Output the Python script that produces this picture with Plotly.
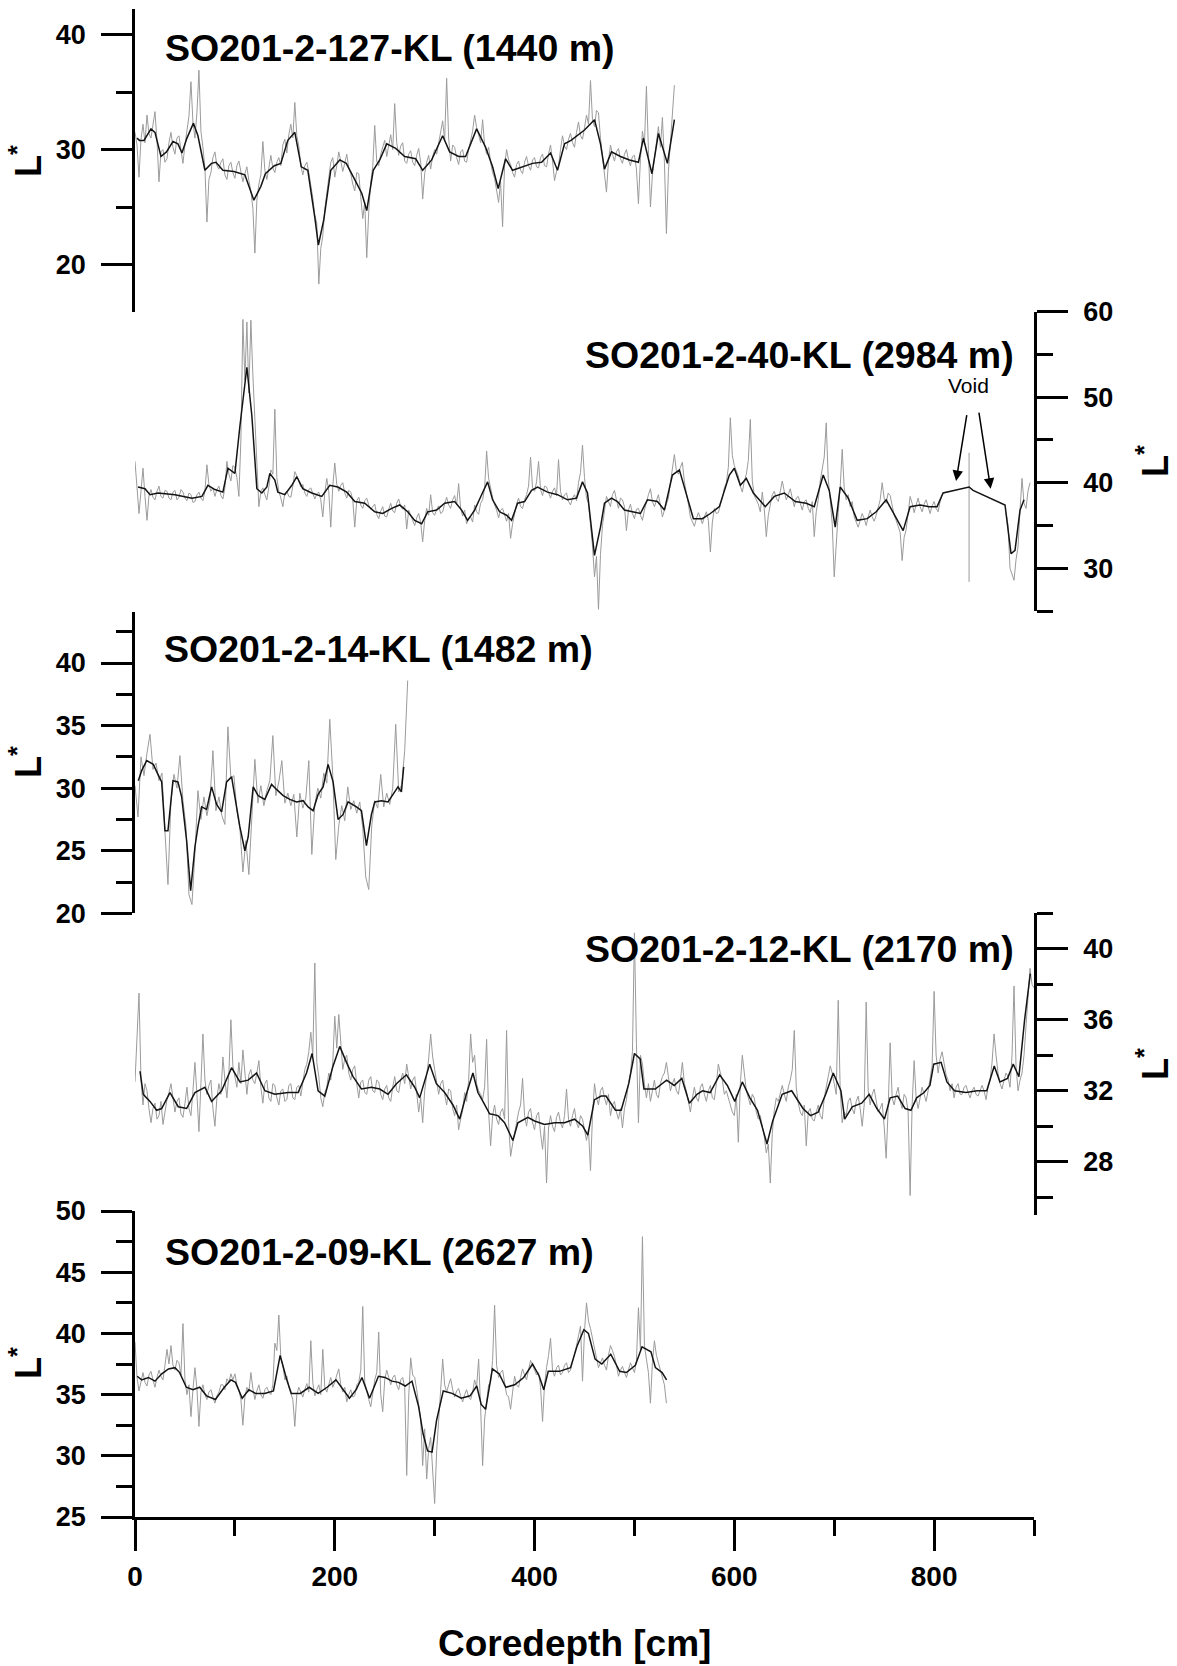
import plotly.graph_objects as go

# ---------------- data ----------------
# raw L* series, sampled every RAW_STEP cm starting at 0 cm
RAW_STEP_127 = 2
L_127_raw = [
    31.5, 30.4, 27.6, 30.9, 32.2, 30.6, 33.0, 31.4, 31.0, 32.4,
    33.3, 30.8, 27.2, 29.8, 30.0, 28.9, 29.2, 30.6, 31.5, 30.2,
    29.6, 31.0, 31.2, 30.0, 28.8, 30.4, 31.8, 32.9, 35.9, 32.4,
    31.0, 33.2, 36.9, 31.6, 30.2, 28.4, 23.7, 27.4, 28.0, 29.3,
    29.8, 28.6, 28.3, 28.9, 29.2, 27.8, 27.4, 28.6, 28.9, 28.0,
    27.5, 28.6, 29.0, 28.1, 27.2, 27.9, 28.5, 27.3, 26.4, 24.9,
    21.0, 25.6, 27.0, 27.8, 30.7, 28.2, 27.4, 28.4, 29.5, 28.4,
    28.0, 28.9, 29.3, 28.6, 30.4, 30.9, 29.7, 31.3, 32.2, 31.0,
    34.1, 31.2, 30.3, 28.6, 27.8, 28.6, 28.9, 28.0, 27.0, 25.8,
    24.3, 23.6, 18.3, 21.4, 22.5, 24.8, 26.2, 27.6, 28.9, 29.3,
    27.6, 28.6, 29.8, 29.0, 28.1, 28.8, 29.6, 28.4, 27.9, 27.0,
    26.4, 28.0, 27.9, 25.9, 24.0, 25.4, 20.6, 24.6, 27.2, 28.5,
    32.1, 29.0, 28.6, 29.6, 30.2, 30.8, 29.4, 30.3, 31.3, 30.0,
    34.0, 30.6, 29.5, 30.3, 30.6, 29.0, 28.8, 29.6, 29.9, 28.9,
    28.6, 29.5, 30.1, 28.9, 25.7, 27.9, 28.9, 29.5, 28.3, 29.4,
    30.0, 29.6, 30.6, 31.4, 32.5, 30.8, 36.2, 31.0, 29.0, 30.4,
    30.2, 29.3, 28.7, 29.8, 30.0, 29.0, 28.9, 30.0, 30.8, 31.6,
    33.0, 31.9, 31.3, 30.6, 32.6, 30.4, 29.6, 30.2, 28.9, 28.0,
    27.5, 26.4, 25.4, 27.2, 23.3, 28.6, 30.0, 29.1, 28.7, 28.0,
    27.6, 28.7, 29.0, 28.2, 27.9, 28.9, 29.4, 28.6, 28.2, 29.1,
    29.3, 28.5, 28.4, 29.3, 29.6, 28.6, 28.5, 29.6, 30.4, 29.0,
    27.3, 28.1, 28.6, 30.0, 31.2, 30.3, 30.0, 30.9, 31.4, 30.6,
    30.2, 31.5, 32.4, 31.2, 30.9, 31.9, 33.0, 32.2, 36.0, 32.6,
    32.0, 33.4, 33.2, 31.0, 29.4, 28.0, 26.3, 29.0, 30.4, 29.6,
    29.0, 29.8, 30.1, 29.2, 28.8, 29.6, 30.0, 29.1, 28.6, 29.4,
    29.5, 28.3, 25.3, 29.2, 31.6, 30.4, 35.5, 30.0, 25.0, 27.8,
    29.4, 30.9, 32.0, 30.2, 32.8, 28.9, 22.7, 28.1, 30.6, 32.8,
    35.6]
smooth_127_depth = [2, 4.5, 9, 16, 20, 26, 31.5, 38, 43, 47, 52, 58.5, 63, 70, 76.5, 81, 88, 99, 110, 119, 126,
                    130.5, 139.5, 146, 153, 160, 166.5, 173, 180, 183.6, 189, 196, 205, 211.5, 220.5, 227, 232,
                    238.5, 245, 252, 261, 270, 281, 288, 297, 308, 315, 324, 331, 342, 351, 358, 363.6, 371,
                    378, 387, 398, 407, 416, 423, 430, 436.5, 443, 450, 460, 466, 470, 477, 486, 495, 504, 509,
                    517.5, 524, 533, 540]
smooth_127_L = [31.0, 30.8, 30.8, 31.8, 31.5, 29.4, 29.8, 30.7, 30.5, 29.7, 31.0, 32.3, 31.2, 28.2, 28.8, 28.9,
                28.2, 28.1, 27.8, 25.6, 26.8, 27.9, 28.6, 28.8, 30.8, 31.5, 28.5, 28.2, 24.1, 21.7, 23.9, 28.2,
                29.1, 28.8, 27.3, 26.2, 24.7, 28.2, 29.1, 30.5, 30.1, 29.4, 29.2, 28.2, 29.1, 31.2, 29.8, 29.4,
                29.4, 31.8, 30.2, 28.5, 26.6, 29.2, 28.2, 28.5, 28.8, 28.9, 29.7, 28.2, 30.5, 30.8, 31.2, 31.7,
                32.6, 30.5, 28.3, 29.8, 29.4, 29.1, 28.9, 31.0, 27.9, 31.4, 28.8, 32.6]

RAW_STEP_40 = 2
L_40_raw = [
    42.5, 39.4, 36.4, 39.0, 41.7, 38.4, 35.6, 38.5, 39.2, 38.3,
    38.0, 39.0, 39.6, 38.4, 38.2, 39.1, 39.0, 38.2, 38.0, 38.9,
    39.1, 38.0, 38.3, 39.2, 38.9, 38.2, 37.9, 38.8, 38.6, 37.7,
    37.8, 38.6, 38.9, 38.2, 37.9, 39.0, 42.1, 39.8, 39.0, 39.4,
    38.4, 39.2, 39.6, 38.5, 38.1, 39.4, 42.5, 41.0, 40.2, 42.0,
    41.8, 40.6, 38.4, 45.0, 59.1, 52.0, 58.8, 50.5, 59.0, 52.6,
    47.4, 41.0, 37.2, 39.0, 39.4, 38.6, 38.0, 39.5, 41.5, 41.0,
    48.6, 40.6, 39.0, 38.2, 37.2, 38.8, 39.0, 38.4, 38.3, 39.6,
    41.3, 40.8, 40.0, 39.5, 39.8, 38.8, 38.4, 39.2, 39.4, 38.6,
    38.1, 38.7, 38.9, 38.0, 36.0, 38.8, 40.5, 39.0, 34.8, 39.6,
    42.3, 39.8, 39.0, 39.7, 40.0, 38.8, 38.2, 39.1, 38.9, 38.0,
    34.8, 37.9, 38.3, 37.4, 37.0, 37.9, 38.2, 37.4, 36.9, 37.2,
    37.5, 36.3, 35.8, 36.7, 37.2, 36.1, 36.0, 36.9, 37.6, 36.7,
    36.5, 37.6, 38.1, 37.2, 36.9, 37.4, 34.6, 36.8, 36.2, 35.4,
    35.0, 35.9, 36.4, 35.3, 33.1, 35.6, 37.0, 36.2, 38.6, 36.5,
    36.2, 36.9, 37.3, 36.4, 36.6, 37.5, 38.3, 37.4, 37.0, 38.0,
    38.5, 37.4, 39.9, 37.0, 36.1, 36.8, 35.2, 35.9, 36.0, 35.4,
    37.4, 36.6, 36.3, 37.6, 38.0, 39.4, 43.7, 40.5, 39.2, 38.3,
    37.4, 36.8, 35.9, 36.8, 37.0, 36.1, 35.5, 36.4, 33.5, 35.2,
    36.6, 37.5, 38.2, 37.2, 37.0, 38.0, 38.6, 39.6, 43.0, 39.4,
    39.0, 40.1, 42.5, 39.2, 38.5, 39.6, 39.5, 38.8, 38.2, 39.0,
    39.4, 38.5, 42.7, 39.0, 38.0, 38.6, 38.8, 37.8, 37.4, 38.2,
    38.6, 37.9, 40.0, 41.2, 44.4, 40.6, 38.2, 37.6, 35.0, 32.6,
    29.0, 31.4, 25.2, 31.6, 35.0, 36.8, 38.4, 37.8, 37.2, 38.6,
    39.1, 38.0, 37.0, 38.2, 38.0, 37.2, 34.4, 36.8, 37.5, 36.4,
    35.8, 36.9, 37.0, 36.2, 35.6, 36.8, 37.8, 38.6, 39.3, 37.8,
    37.2, 38.0, 38.6, 37.4, 36.0, 36.8, 37.4, 38.2, 40.0, 41.6,
    43.3, 41.4, 41.0, 41.8, 42.4, 40.1, 38.9, 37.5, 36.0, 35.4,
    34.9, 35.8, 36.5, 35.9, 35.2, 36.0, 36.6, 35.6, 31.9, 35.4,
    37.0, 36.4, 36.5, 37.4, 38.2, 39.4, 40.0, 41.8, 47.6, 43.2,
    42.0, 41.4, 40.8, 39.6, 38.9, 40.2, 41.0, 42.6, 47.4, 40.2,
    38.5, 38.0, 37.5, 36.6, 38.9, 36.9, 33.7, 36.2, 37.4, 38.6,
    39.0, 38.2, 37.8, 39.1, 40.2, 39.0, 38.0, 38.6, 39.3, 38.2,
    37.2, 38.2, 38.4, 37.6, 36.8, 37.8, 38.0, 37.0, 36.5, 37.8,
    33.7, 36.6, 38.0, 40.2, 41.5, 43.0, 47.0, 40.5, 38.0, 35.2,
    29.0, 33.4, 36.5, 39.6, 43.9, 39.4, 38.0, 38.6, 37.2, 37.8,
    36.0, 35.4, 34.8, 35.6, 36.4, 35.8, 35.0, 36.0, 36.8, 36.0,
    35.5, 36.2, 37.0, 38.0, 40.0, 38.2, 37.6, 38.8, 38.5, 37.4,
    36.2, 35.6, 35.0, 34.2, 30.9, 33.6, 34.5, 36.4, 38.4, 37.6,
    36.5, 37.4, 38.2, 37.2, 36.6, 37.5, 38.0, 37.2, 36.4, 37.3,
    37.8, 37.0, 36.6, 37.8, 38.6, None, None, None, None, None,
    None, None, None, None, None, None, None, None, None, None,
    None, None, None, None, None, None, None, None, None, None,
    None, None, None, None, None, None, 36.5, 35.0, 30.0, 29.2,
    28.6, 31.0, 32.5, 36.8, 40.5, 37.6, 37.0, 39.0, 40.0]
void_spike_depth = [835, 835]
void_spike_L = [43.5, 28.4]
smooth_40_depth = [3, 10, 15, 23, 40, 57, 67, 73, 80, 88, 93, 100, 105, 112, 117, 122, 127, 132, 135, 140, 143,
                   150, 157, 162, 168, 177, 187, 195, 203, 212, 220, 230, 240, 248, 257, 265, 273, 280, 287,
                   293, 302, 310, 320, 327, 333, 340, 347, 353, 358, 365, 372, 377, 383, 390, 397, 403, 413,
                   423, 433, 442, 448, 453, 460, 466, 470, 477, 483, 490, 498, 506, 513, 523, 530, 538, 545,
                   553, 559, 568, 576, 585, 595, 600, 606, 612, 619, 631, 640, 650, 661, 672, 680, 689, 695,
                   701, 706, 714, 723, 733, 742, 752, 761, 769, 776, 786, 795, 803, 809, 835, 839, 871, 877,
                   881, 886, 890]
smooth_40_L = [39.5, 39.3, 38.6, 38.8, 38.6, 38.2, 38.4, 39.7, 39.2, 38.9, 41.7, 41.1, 46.6, 53.5, 47.8, 39.3,
               38.8, 39.5, 41.1, 40.3, 38.9, 38.6, 39.7, 40.7, 39.3, 38.8, 38.4, 39.7, 39.5, 38.9, 37.8, 37.6,
               36.6, 36.4, 37.0, 37.4, 36.6, 35.6, 35.2, 36.6, 36.8, 37.6, 37.8, 36.8, 35.6, 36.8, 38.6, 40.1,
               38.0, 36.6, 36.2, 35.6, 37.6, 37.8, 39.1, 39.5, 38.9, 38.6, 38.0, 38.2, 40.1, 38.8, 31.5, 34.8,
               37.6, 38.2, 37.8, 36.8, 36.6, 36.4, 38.0, 37.8, 36.8, 40.9, 41.5, 38.4, 35.8, 35.8, 36.4, 37.2,
               40.9, 41.7, 39.7, 40.5, 38.8, 37.2, 38.4, 38.8, 37.8, 37.6, 37.2, 40.9, 39.1, 34.8, 39.5, 38.2,
               35.6, 35.8, 36.6, 38.0, 36.0, 34.4, 37.2, 37.4, 37.2, 37.2, 38.8, 39.5, 39.1, 37.4, 31.7, 32.1,
               36.8, 38.0]

RAW_STEP_14 = 3
L_14_raw = [30.2, 27.7, 32.5, 31.0, 32.8, 34.3, 31.5, 32.0, 30.6, 31.2, 26.5, 22.3, 29.0, 31.1, 30.0, 32.6,
            29.0, 27.0, 21.5, 20.7, 24.8, 29.8, 27.5, 29.3, 27.8, 29.0, 33.0, 28.2, 29.3, 27.8, 27.1, 34.9,
            30.8, 31.0, 28.2, 26.8, 23.3, 25.8, 23.1, 27.6, 32.3, 28.8, 30.2, 28.6, 29.8, 30.6, 34.2, 29.4,
            30.5, 32.2, 28.8, 29.6, 28.6, 29.5, 26.1, 29.6, 28.4, 29.2, 32.2, 24.7, 28.7, 30.0, 29.2, 31.2,
            30.4, 35.5, 31.0, 24.3, 27.0, 28.6, 27.4, 30.1, 28.3, 29.0, 28.0, 28.9, 26.8, 22.9, 21.9, 27.0,
            29.0, 28.4, 31.1, 28.5, 29.6, 28.7, 30.0, 35.1, 29.7, 30.3, 33.0, 38.6]
smooth_14_depth = [3.3, 6.7, 11.7, 18.3, 23, 26.7, 30, 33, 38, 43, 46.7, 51.7, 55.7, 60, 63, 66.7, 71.7, 76.7,
                   81.7, 86.7, 91.7, 96.7, 100, 105, 110, 113.3, 118.3, 123.3, 130, 136.7, 141.7, 148.3, 155,
                   161.7, 168.3, 173.3, 178.3, 183.3, 188.3, 193.3, 198.3, 203.3, 208.3, 213.3, 221.7, 226.7,
                   231.7, 236.7, 240, 246.7, 253.3, 258.3, 263.3, 266.7, 269]
smooth_14_L = [30.6, 31.4, 32.2, 31.9, 31.1, 30.5, 26.6, 26.6, 30.6, 30.5, 29.3, 25.8, 21.8, 25.3, 26.9, 28.5,
               28.3, 30.1, 28.7, 28.1, 30.5, 30.9, 29.3, 26.9, 25.0, 26.1, 30.1, 29.4, 29.1, 30.3, 29.9, 29.4,
               29.1, 28.9, 29.0, 28.5, 28.2, 29.5, 30.1, 31.9, 30.5, 27.5, 27.9, 28.9, 28.5, 28.2, 25.4, 27.9,
               28.9, 29.0, 28.9, 29.5, 30.1, 29.7, 31.7]

RAW_STEP_12 = 2
L_12_raw = [
    32.5, 34.8, 37.5, 32.6, 31.2, 32.4, 32.0, 31.0, 30.2, 31.0,
    31.3, 30.4, 30.6, 31.4, 30.1, 30.8, 31.5, 31.9, 32.4, 31.6,
    30.8, 31.4, 31.6, 30.7, 30.5, 31.3, 32.2, 31.0, 30.6, 32.0,
    33.6, 31.8, 29.7, 32.4, 35.2, 32.6, 31.8, 32.3, 32.6, 31.0,
    30.0, 31.6, 32.4, 31.8, 33.9, 32.6, 31.6, 33.0, 36.0, 33.4,
    32.8, 32.2, 33.6, 32.4, 34.3, 32.8, 31.8, 32.9, 33.2, 32.6,
    32.4, 33.0, 33.7, 32.2, 31.3, 32.4, 32.6, 31.6, 31.4, 32.4,
    32.3, 31.6, 31.2, 32.0, 32.1, 31.4, 31.5, 32.3, 32.4, 31.6,
    31.5, 32.2, 32.3, 31.7, 32.6, 33.2, 33.5, 34.2, 35.3, 34.0,
    39.2, 33.6, 32.8, 31.6, 31.1, 31.9, 32.2, 33.0, 32.6, 33.6,
    36.2, 34.4, 36.3, 34.8, 33.2, 33.8, 34.0, 33.0, 32.6, 33.2,
    33.4, 32.4, 31.6, 32.5, 32.6, 31.9, 31.8, 32.6, 32.8, 32.0,
    31.9, 32.6, 32.5, 31.8, 31.5, 32.1, 32.3, 31.6, 31.4, 32.2,
    32.8, 32.0, 31.9, 32.6, 33.0, 32.4, 33.5, 32.8, 32.1, 32.6,
    32.8, 31.9, 30.8, 31.6, 30.2, 32.0, 33.0, 33.8, 35.2, 33.9,
    33.2, 32.6, 31.8, 32.4, 32.6, 31.8, 31.2, 32.1, 32.0, 31.0,
    30.6, 31.2, 29.8, 30.4, 30.9, 31.9, 31.4, 32.6, 35.2, 33.6,
    34.0, 32.4, 32.0, 31.8, 31.5, 32.2, 34.9, 30.8, 28.9, 30.6,
    31.2, 30.4, 30.1, 30.8, 31.0, 30.4, 35.4, 30.2, 28.3, 29.0,
    29.6, 30.4, 30.8, 31.2, 32.7, 30.6, 30.0, 30.8, 31.0, 30.2,
    29.8, 30.6, 30.8, 29.6, 28.7, 30.0, 26.8, 29.9, 30.6, 30.0,
    29.7, 30.5, 30.8, 30.2, 29.9, 30.6, 32.1, 30.4, 30.0, 30.6,
    31.0, 30.2, 29.9, 30.6, 30.4, 29.8, 29.2, 29.8, 27.5, 30.6,
    32.4, 31.6, 31.2, 32.0, 32.2, 31.6, 31.2, 31.8, 30.6, 31.2,
    31.4, 30.8, 30.4, 31.0, 29.9, 31.0, 31.5, 32.4, 33.0, 34.2,
    40.9, 34.6, 30.2, 34.0, 33.5, 32.4, 31.6, 32.4, 31.4, 32.0,
    32.6, 31.8, 31.6, 32.4, 32.8, 33.0, 33.6, 32.8, 32.0, 32.4,
    32.7, 32.0, 31.8, 32.6, 33.6, 32.4, 32.0, 31.4, 30.8, 31.6,
    32.2, 31.6, 31.4, 32.2, 32.4, 31.8, 31.4, 32.0, 32.3, 31.6,
    31.5, 32.4, 33.5, 33.0, 32.6, 31.8, 32.0, 31.6, 31.2, 30.8,
    30.6, 31.8, 29.1, 32.4, 34.0, 32.8, 32.0, 31.6, 31.2, 31.8,
    31.6, 30.8, 30.4, 30.6, 30.0, 29.4, 28.5, 29.0, 26.8, 29.6,
    30.9, 31.6, 31.4, 31.8, 32.3, 31.8, 31.4, 32.2, 32.6, 33.2,
    35.4, 32.2, 31.3, 30.8, 30.6, 31.2, 28.9, 30.8, 31.0, 30.4,
    30.3, 30.8, 31.2, 30.6, 30.4, 31.6, 32.3, 32.8, 33.4, 33.0,
    32.4, 31.8, 37.1, 32.0, 30.2, 30.8, 30.6, 31.4, 31.6, 31.0,
    30.7, 31.4, 31.7, 31.0, 30.0, 31.2, 37.0, 32.0, 31.2, 31.8,
    32.1, 31.4, 30.8, 31.0, 31.3, 30.0, 28.2, 31.0, 34.7, 31.6,
    31.2, 31.8, 32.2, 31.4, 31.0, 31.8, 31.6, 30.8, 26.1, 31.2,
    33.7, 31.6, 31.0, 31.6, 32.2, 31.8, 31.4, 32.0, 32.6, 33.4,
    37.6, 34.0, 33.0, 33.8, 34.2, 33.4, 32.9, 32.6, 32.0, 32.4,
    31.6, 32.2, 32.4, 31.8, 31.8, 32.2, 32.3, 31.9, 31.6, 32.0,
    32.2, 31.8, 31.7, 32.0, 32.3, 32.0, 31.5, 32.2, 32.6, 33.6,
    35.2, 34.0, 33.0, 32.4, 32.1, 32.6, 33.0, 32.8, 32.2, 34.0,
    37.9, 33.4, 32.0, 32.6, 33.0, 34.0, 35.5, 37.2, 38.9, 38.0,
    37.8]
smooth_12_depth = [5, 8.3, 15, 21.7, 26.7, 35, 43.3, 51.7, 60, 70, 76.7, 86.7, 96.7, 105, 113.3, 121.7, 130,
                   140, 153.3, 163.3, 171.7, 177.3, 183.3, 190, 198.3, 205, 211.7, 218.3, 226.7, 236.7, 245,
                   253.3, 261.7, 271.7, 280, 285, 295, 301.7, 310, 318.3, 325, 331.7, 338.3, 343.3, 348.3,
                   355, 363.3, 370, 378.3, 383.3, 393.3, 400, 410, 420, 430, 440, 448.3, 453.3, 460, 466.7,
                   471.5, 481, 486.7, 494.3, 500, 505.7, 509.5, 520.8, 532.2, 539.8, 547.4, 555, 562.6, 568.2,
                   575.8, 585.3, 593, 600.5, 608, 615.6, 623.2, 632.7, 638.4, 647.9, 657.4, 668.7, 676.3,
                   683.9, 691.5, 699, 706.7, 710.5, 718, 727.5, 735, 742.7, 750.3, 756, 763.5, 771, 776.8,
                   782.5, 790, 795.8, 799.6, 807, 812.8, 820.4, 831.8, 843.2, 852.7, 860.2, 865.9, 873.5,
                   879.2, 884.9, 890.6, 896.3]
smooth_12_L = [33.1, 31.8, 31.4, 30.9, 31.0, 31.9, 31.1, 31.0, 31.9, 32.2, 31.4, 32.0, 33.3, 32.5, 32.6, 33.0,
               32.0, 31.8, 31.9, 31.9, 33.0, 34.1, 32.0, 31.7, 33.4, 34.5, 33.6, 32.8, 32.1, 32.2, 32.1, 31.8,
               32.4, 32.9, 32.2, 31.6, 33.5, 32.4, 31.9, 31.2, 30.4, 31.8, 33.0, 31.9, 31.4, 30.7, 30.6, 30.2,
               29.2, 30.2, 30.5, 30.3, 30.1, 30.2, 30.2, 30.4, 30.0, 29.5, 31.5, 31.7, 31.7, 30.9, 30.9, 32.4,
               34.1, 33.8, 32.1, 32.1, 32.6, 32.3, 32.7, 31.3, 31.8, 32.0, 31.9, 32.9, 32.3, 31.4, 32.5, 31.6,
               30.9, 29.0, 30.3, 31.8, 32.0, 31.0, 30.6, 30.8, 31.8, 33.0, 32.0, 30.4, 31.1, 31.3, 31.8, 31.0,
               30.4, 31.6, 31.7, 31.0, 30.9, 31.6, 31.9, 32.3, 33.5, 33.6, 32.5, 32.0, 31.9, 32.0, 32.0, 33.4,
               32.5, 32.7, 33.5, 32.8, 36.0, 38.6]

RAW_STEP_09 = 2
L_09_raw = [
    39.3, 36.4, 35.3, 36.2, 36.8, 36.0, 35.7, 36.6, 36.9, 36.2,
    35.6, 36.4, 37.0, 36.5, 36.2, 37.4, 38.7, 37.5, 39.0, 37.4,
    37.0, 37.8, 37.6, 36.6, 40.8, 36.2, 35.0, 35.8, 33.2, 35.4,
    37.2, 35.5, 32.4, 35.2, 35.8, 35.0, 34.6, 35.2, 35.4, 34.8,
    34.3, 34.9, 35.2, 35.8, 35.8, 35.4, 36.3, 36.0, 36.7, 36.2,
    36.7, 35.8, 35.4, 34.6, 32.5, 34.8, 35.6, 35.2, 36.8, 35.5,
    34.6, 35.3, 35.8, 35.0, 34.7, 35.4, 35.6, 35.2, 35.0, 35.8,
    39.2, 38.6, 41.5, 38.0, 37.4, 36.2, 36.5, 35.6, 35.0, 34.6,
    32.4, 35.0, 35.6, 35.2, 34.8, 35.4, 35.9, 35.2, 39.4, 36.0,
    34.9, 35.4, 35.8, 35.0, 38.7, 35.6, 35.2, 35.8, 36.4, 35.6,
    36.0, 36.6, 37.1, 35.8, 35.2, 35.6, 34.4, 35.0, 35.4, 34.8,
    34.9, 35.8, 36.0, 37.0, 42.2, 36.0, 35.2, 34.6, 34.0, 35.2,
    36.2, 36.8, 40.1, 35.0, 33.6, 36.2, 37.0, 36.4, 35.8, 36.4,
    36.6, 35.8, 35.4, 36.2, 36.4, 35.6, 28.4, 34.8, 38.0, 36.6,
    36.4, 35.4, 34.2, 33.0, 29.2, 32.2, 28.1, 30.6, 31.5, 29.0,
    26.1, 30.4, 33.0, 35.4, 37.9, 35.8, 35.2, 35.8, 36.3, 35.4,
    34.8, 35.3, 35.5, 34.9, 34.4, 35.0, 35.4, 34.8, 34.6, 35.2,
    36.2, 35.6, 37.9, 34.0, 29.2, 33.0, 34.6, 35.8, 36.0, 37.8,
    42.3, 37.4, 36.4, 36.8, 37.0, 36.0, 35.0, 34.8, 33.8, 35.2,
    36.5, 35.8, 35.6, 36.4, 37.1, 36.6, 36.2, 37.0, 37.8, 37.4,
    37.0, 36.6, 36.8, 35.6, 32.8, 35.8, 37.2, 38.2, 39.6, 37.0,
    36.5, 37.2, 37.4, 36.6, 36.8, 37.4, 37.6, 36.8, 37.0, 37.6,
    38.2, 39.0, 39.8, 40.6, 36.1, 40.2, 42.5, 41.0, 40.4, 39.6,
    38.5, 37.8, 37.2, 37.6, 38.0, 37.4, 37.0, 38.2, 39.0, 38.6,
    38.1, 37.4, 36.5, 37.0, 37.3, 36.8, 36.4, 37.0, 37.6, 37.2,
    36.8, 37.8, 42.1, 38.6, 47.9, 39.0, 38.0, 36.8, 34.3, 37.6,
    39.4, 38.2, 37.6, 37.0, 36.4, 35.8, 34.3]
smooth_09_depth = [2.2, 6.7, 13.4, 20, 26.8, 33.5, 40, 44.7, 51.4, 58, 64.8, 71.6, 80.5, 89.4, 96, 100.6, 107.3,
                   114, 120.7, 129.7, 138.6, 145.3, 152, 156.5, 165.5, 174.4, 183.4, 192.3, 201.2, 208,
                   214.7, 221.4, 227.2, 234.8, 243.7, 250.4, 257.1, 263.8, 270.6, 277.3, 284, 288.4, 292.9,
                   297.4, 301.9, 308.6, 317.5, 326.5, 335.4, 342.1, 346.6, 351, 357.8, 364.5, 371.2, 380.1,
                   389.1, 398, 404.7, 409.2, 413.7, 424.8, 436, 442.7, 449.4, 453.9, 460.6, 467.3, 476.3,
                   485.2, 491.9, 500.9, 507.6, 516.5, 521, 527.7, 532.2]
smooth_09_L = [36.5, 36.2, 36.4, 36.1, 36.7, 37.1, 37.2, 36.8, 35.6, 35.4, 35.6, 34.9, 34.6, 35.6, 36.2, 36.0,
               34.7, 35.4, 35.1, 35.1, 35.3, 38.2, 36.2, 35.1, 35.1, 35.6, 35.1, 35.6, 36.2, 35.4, 34.7, 35.4,
               36.4, 34.7, 36.5, 36.4, 36.1, 36.0, 35.7, 36.1, 34.0, 31.8, 30.4, 30.3, 32.9, 35.3, 35.1, 34.7,
               34.9, 35.7, 34.2, 33.8, 37.1, 36.7, 35.6, 35.8, 36.4, 37.5, 36.5, 35.4, 36.9, 36.9, 37.2, 39.0,
               40.3, 40.0, 37.9, 37.5, 38.3, 36.9, 36.8, 37.4, 38.9, 38.5, 37.2, 36.8, 36.2]

core_titles = ["SO201-2-127-KL (1440 m)", "SO201-2-40-KL (2984 m)", "SO201-2-14-KL (1482 m)",
               "SO201-2-12-KL (2170 m)", "SO201-2-09-KL (2627 m)"]
x_title = "Coredepth [cm]"
y_title = "L<sup>*</sup>"
void_label = "Void"
void_arrow_depth = [822, 856.6]
void_arrow_L = [40.2, 39.3]

# ---------------- layout geometry (pixels of the 1177x1666 page) ----------------
W, H = 1177, 1666
FONT = "Liberation Sans, Arial, sans-serif"
XPIX0, XPIX1 = 135, 1034
RAW_COLOR = "#9b9b9b"
SMOOTH_COLOR = "#141414"


def fx(p):
    return p / W


def fy(p):
    return 1 - p / H


series = [
    (L_127_raw, RAW_STEP_127, smooth_127_depth, smooth_127_L),
    (L_40_raw, RAW_STEP_40, smooth_40_depth, smooth_40_L),
    (L_14_raw, RAW_STEP_14, smooth_14_depth, smooth_14_L),
    (L_12_raw, RAW_STEP_12, smooth_12_depth, smooth_12_L),
    (L_09_raw, RAW_STEP_09, smooth_09_depth, smooth_09_L),
]

panels = [
    dict(top=9.3, bottom=311.7, yrange=[15.9, 42.2], side="left", dtick=10, minor=5, tick0=0,
         title=(163, 47.5, "left"), ylab=(26, 161)),
    dict(top=311.7, bottom=611, yrange=[25, 60], side="right", dtick=10, minor=5, tick0=0,
         title=(1016, 355, "right"), ylab=(1153, 461)),
    dict(top=611.7, bottom=913.3, yrange=[20, 44.1], side="left", dtick=5, minor=2.5, tick0=0,
         title=(162, 649, "left"), ylab=(26, 762)),
    dict(top=913.3, bottom=1215, yrange=[25, 42], side="right", dtick=4, minor=2, tick0=0,
         title=(1016, 949, "right"), ylab=(1153, 1064)),
    dict(top=1211, bottom=1517, yrange=[25, 50], side="left", dtick=5, minor=2.5, tick0=0,
         title=(163, 1251.7, "left"), ylab=(26, 1363)),
]

fig = go.Figure()
annotations = []
layout_axes = {}

for i, (p, (raw, step, sd, sl)) in enumerate(zip(panels, series), start=1):
    xa = "x" if i == 1 else f"x{i}"
    ya = "y" if i == 1 else f"y{i}"
    raw_depth = [step * k for k in range(len(raw))]
    fig.add_trace(go.Scatter(x=raw_depth, y=raw, mode="lines", xaxis=xa, yaxis=ya,
                             line=dict(color=RAW_COLOR, width=1), connectgaps=False, hoverinfo="skip"))
    if i == 2:
        fig.add_trace(go.Scatter(x=void_spike_depth, y=void_spike_L, mode="lines", xaxis=xa, yaxis=ya,
                                 line=dict(color=RAW_COLOR, width=1), hoverinfo="skip"))
    fig.add_trace(go.Scatter(x=sd, y=sl, mode="lines", xaxis=xa, yaxis=ya,
                             line=dict(color=SMOOTH_COLOR, width=1.5), hoverinfo="skip"))

    xkey = "xaxis" if i == 1 else f"xaxis{i}"
    ykey = "yaxis" if i == 1 else f"yaxis{i}"
    xax = dict(domain=[fx(XPIX0), fx(XPIX1)], range=[0, 900], anchor=ya, showgrid=False, zeroline=False,
               fixedrange=True)
    if i < 5:
        xax["visible"] = False
    else:
        xax.update(showline=True, linecolor="black", linewidth=2.5, ticks="outside", ticklen=31,
                   tickwidth=2.5, tickcolor="black", tick0=0, dtick=200,
                   tickfont=dict(family=FONT, size=28, color="black", weight="bold"),
                   ticklabelstandoff=2,
                   minor=dict(dtick=100, tick0=0, ticks="outside", ticklen=16, tickwidth=2.5,
                              tickcolor="black", showgrid=False))
    layout_axes[xkey] = xax
    layout_axes[ykey] = dict(
        domain=[fy(p["bottom"]), fy(p["top"])], range=p["yrange"], side=p["side"], anchor=xa,
        showgrid=False, zeroline=False, showline=True, linecolor="black", linewidth=2.5,
        ticks="outside", ticklen=31, tickwidth=2.5, tickcolor="black", tick0=p["tick0"], dtick=p["dtick"],
        tickfont=dict(family=FONT, size=27, color="black", weight="bold"), ticklabelstandoff=10,
        minor=dict(dtick=p["minor"], tick0=p["tick0"], ticks="outside", ticklen=16, tickwidth=2.5,
                   tickcolor="black", showgrid=False),
        fixedrange=True)

    tx, ty, tanchor = p["title"]
    annotations.append(dict(text=f"<b>{core_titles[i - 1]}</b>", x=fx(tx), y=fy(ty), xref="paper",
                            yref="paper", xanchor=tanchor, yanchor="middle", showarrow=False,
                            font=dict(family=FONT, size=37.5, color="black")))
    lx, ly = p["ylab"]
    annotations.append(dict(text=f"<b>{y_title}</b>", x=fx(lx), y=fy(ly), xref="paper", yref="paper",
                            xanchor="center", yanchor="middle", showarrow=False, textangle=-90,
                            font=dict(family=FONT, size=36, color="black")))

annotations.append(dict(text=f"<b>{x_title}</b>", x=fx(574), y=fy(1643), xref="paper", yref="paper",
                        xanchor="center", yanchor="middle", showarrow=False,
                        font=dict(family=FONT, size=37, color="black")))
annotations.append(dict(text=void_label, x=fx(968), y=fy(385), xref="paper", yref="paper",
                        xanchor="center", yanchor="middle", showarrow=False,
                        font=dict(family=FONT, size=21, color="black")))
for (ad, al, axo, ayo) in zip(void_arrow_depth, void_arrow_L, [11, -12], [-68, -78]):
    annotations.append(dict(text=" ", x=ad, y=al, xref="x2", yref="y2", ax=axo, ay=ayo,
                            showarrow=True, arrowhead=2, arrowsize=1.4, arrowwidth=1.5,
                            arrowcolor="black", standoff=0, font=dict(size=1)))

fig.update_layout(width=W, height=H, margin=dict(l=0, r=0, t=0, b=0, autoexpand=False),
                  paper_bgcolor="white", plot_bgcolor="rgba(0,0,0,0)", showlegend=False,
                  annotations=annotations, font=dict(family=FONT), **layout_axes)

fig.write_html("out.html", config={"displayModeBar": False},
               post_script="document.body.style.margin='0';document.body.style.overflow='hidden';")
